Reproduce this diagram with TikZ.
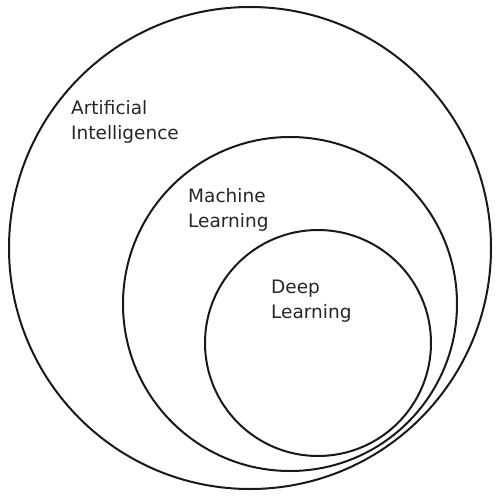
\documentclass[tikz,border=0pt]{standalone}
\usepackage{fontspec}
\setmainfont{DejaVu Sans}
\begin{document}
\begin{tikzpicture}[x=1pt,y=-1pt,
  ring/.style={draw=black!90,line width=2pt,circle,inner sep=0pt},
  lbl/.style={anchor=north west,align=left,inner sep=0pt,font=\fontsize{18.5}{25}\selectfont,text=black!85}]
\useasboundingbox (0,0) rectangle (500,500);
\node[ring,minimum size=482pt] (ai) at (250,248) {};
\node[ring,minimum size=334pt] (ml) at (290,304) {};
\node[ring,minimum size=226pt] (dl) at (318,343) {};
\node[lbl] (tai) at (71,100) {Artificial\\Intelligence};
\node[lbl] (tml) at (188,188) {Machine\\Learning};
\node[lbl] (tdl) at (271,280) {Deep\\Learning};
\end{tikzpicture}
\end{document}
